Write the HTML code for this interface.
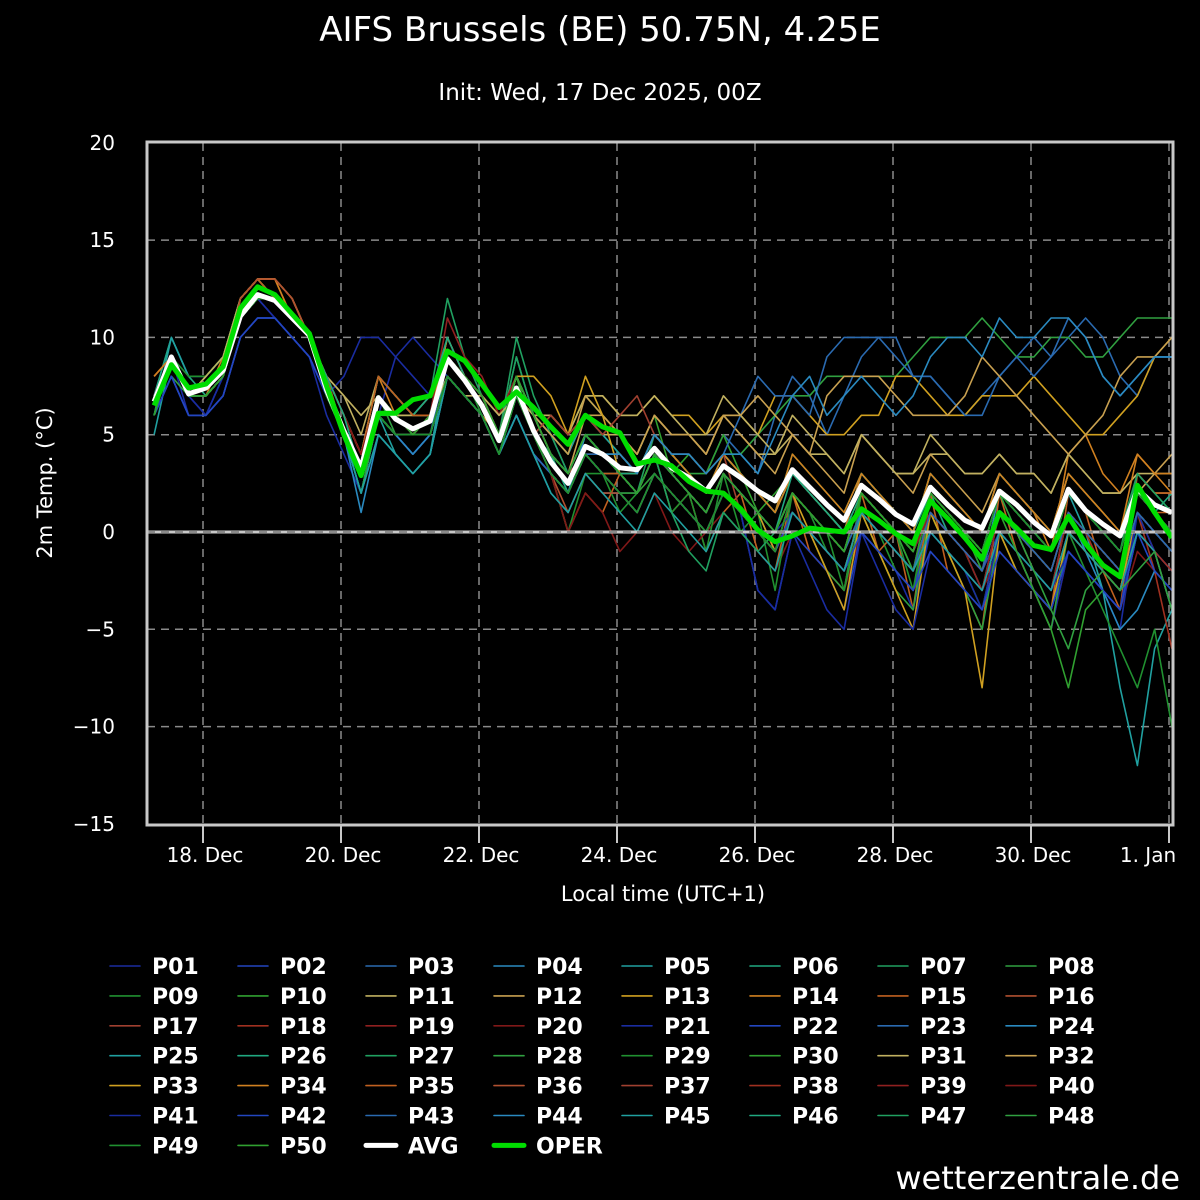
<!DOCTYPE html>
<html><head><meta charset="utf-8">
<style>
html,body{margin:0;padding:0;background:#000;}
svg{display:block;font-family:"DejaVu Sans","Liberation Sans",sans-serif;}
</style></head>
<body>
<svg id="chart" width="1200" height="1200" viewBox="0 0 1200 1200">
<rect x="0" y="0" width="1200" height="1200" fill="#000"/>
<text x="600" y="41" text-anchor="middle" fill="#fff" font-size="34">AIFS Brussels (BE) 50.75N, 4.25E</text>
<text x="600" y="100" text-anchor="middle" fill="#fff" font-size="23">Init: Wed, 17 Dec 2025, 00Z</text>
<g id="grid"></g>
<g id="series"></g>
<rect x="147" y="142" width="1026" height="683" fill="none" stroke="#c8c8c8" stroke-width="3"/>
<g id="yaxis"></g>
<g id="xaxis"></g>
<text transform="translate(52,483) rotate(-90)" text-anchor="middle" fill="#fff" font-size="21">2m Temp. (°C)</text>
<text x="663" y="901" text-anchor="middle" fill="#fff" font-size="21">Local time (UTC+1)</text>
<g id="legend"></g>
<text x="1180" y="1189" text-anchor="end" fill="#fff" font-size="32">wetterzentrale.de</text>
</svg>
<script>
const yTicks = [20, 15, 10, 5, 0, -5, -10, -15];
const yTickLabels = ["20", "15", "10", "5", "0", "\u22125", "\u221210", "\u221215"];
const xTickDays = [1, 3, 5, 7, 9, 11, 13, 15];
const xTickLabels = ["18. Dec", "20. Dec", "22. Dec", "24. Dec", "26. Dec", "28. Dec", "30. Dec", "1. Jan"];
const leadHours = [6,12,18,24,30,36,42,48,54,60,66,72,78,84,90,96,102,108,114,120,126,132,138,144,150,156,162,168,174,180,186,192,198,204,210,216,222,228,234,240,246,252,258,264,270,276,282,288,294,300,306,312,318,324,330,336,342,348,354,360];
const avgValues = [6.7,9.0,7.1,7.4,8.3,11.1,12.2,11.9,11.0,10.1,7.3,5.2,3.3,6.9,5.8,5.3,5.7,8.9,7.8,6.5,4.7,7.4,5.2,3.6,2.5,4.4,4.0,3.3,3.2,4.3,3.3,2.8,2.1,3.4,2.8,2.1,1.6,3.2,2.3,1.4,0.6,2.4,1.7,0.9,0.4,2.3,1.4,0.6,0.2,2.1,1.4,0.5,-0.2,2.2,1.1,0.4,-0.2,2.2,1.4,1.0];
const operValues = [6.5,8.6,7.4,7.6,8.5,11.5,12.6,12.2,11.2,10.2,7.5,5.0,2.9,6.1,6.1,6.8,7.0,9.3,8.8,7.6,6.4,7.2,6.4,5.4,4.5,6.0,5.4,5.1,3.5,3.7,3.4,2.6,2.1,2.0,1.2,0.1,-0.5,-0.2,0.2,0.1,0.0,1.2,0.6,-0.1,-0.6,1.6,0.7,-0.3,-1.4,1.0,0.2,-0.7,-0.9,0.8,-0.6,-1.7,-2.3,2.4,1.0,-0.3];
const memberValues = [
[7,9,6,6,8,11,12,11,10,9,6,4,2,6,9,10,9,8,7,6,4,6,4,3,2,4,3,2,2,3,2,1,0,2,1,0,-1,1,0,-1,-2,0,-1,-2,-3,0,-1,-2,-3,0,-1,-3,-4,-1,-2,-3,-4,0,-1,-2],
[6,8,6,6,7,10,11,11,10,9,7,5,2,6,5,4,5,8,7,6,4,7,5,3,2,4,3,3,2,4,3,2,1,3,2,1,0,2,1,0,-1,1,0,-1,-2,1,0,-1,-2,0,-1,-2,-3,0,-1,-2,-3,1,0,-1],
[7,10,8,8,9,12,13,12,11,10,8,6,4,8,7,6,6,9,8,7,5,8,6,5,3,5,4,4,3,5,4,4,3,5,4,3,6,8,7,5,7,9,10,10,8,8,7,6,7,8,9,10,9,10,11,10,8,7,9,9],
[6,9,7,7,8,11,12,12,11,10,7,5,1,5,4,3,4,8,7,6,4,6,4,2,1,3,2,2,1,3,2,1,0,2,1,0,-1,2,1,0,-1,2,1,0,-1,1,0,-1,-2,2,1,0,-1,1,0,-1,-2,2,1,0],
[5,9,7,7,8,11,12,12,11,10,7,5,2,6,4,3,4,9,8,7,5,8,6,4,2,5,4,3,3,5,4,3,2,4,3,2,1,3,2,1,0,3,2,1,0,3,2,1,0,2,1,0,-1,2,0,-3,-8,-12,-6,-4],
[7,10,8,7,8,11,12,12,11,10,8,6,3,7,6,5,6,10,8,7,5,9,6,4,2,5,4,3,2,4,3,2,1,3,2,1,0,2,1,0,-1,2,1,0,-2,2,0,-1,-3,1,0,-2,-3,1,0,-1,-2,2,1,2],
[6,9,7,8,9,12,13,12,11,10,7,5,3,7,6,6,7,12,9,7,5,9,6,4,3,5,4,3,2,5,4,3,2,4,3,2,1,4,3,2,1,3,2,1,0,3,2,1,0,3,2,1,0,3,2,1,0,3,2,1],
[6,8,7,8,9,11,12,12,11,10,7,5,3,7,5,5,6,9,8,7,5,8,6,4,3,5,5,4,3,5,4,3,3,4,4,5,6,7,7,8,8,8,8,8,9,10,10,10,11,10,9,9,10,10,9,9,10,11,11,11],
[7,9,7,7,8,11,12,12,11,10,7,5,3,6,5,5,6,9,8,6,4,7,5,3,2,4,3,3,2,4,3,2,1,3,2,1,0,2,1,-1,-2,1,0,-2,-3,1,-1,-2,-4,0,-1,-3,-4,0,-2,-4,-6,-8,-5,-10],
[6,9,7,7,8,11,12,12,11,10,8,6,4,7,6,5,6,9,8,7,5,8,5,6,5,7,6,5,4,6,3,4,3,5,3,1,2,3,2,1,0,2,1,0,-1,2,1,0,-1,2,1,0,-1,2,1,0,-1,2,1,0],
[7,9,7,8,9,12,13,12,11,10,8,7,5,8,7,6,7,9,8,7,6,8,6,5,4,6,5,5,4,6,5,5,4,6,5,4,4,5,4,4,3,5,4,3,3,4,4,3,3,4,3,3,2,4,3,2,2,3,2,2],
[7,9,7,7,8,12,13,13,12,10,8,6,4,8,7,6,6,10,8,7,5,8,6,4,3,6,6,5,4,6,5,5,4,6,5,4,3,5,4,3,2,5,4,3,2,4,3,2,1,3,2,1,0,3,2,1,0,2,3,4],
[6,9,7,7,8,11,12,12,11,10,7,5,3,6,5,5,5,8,7,6,5,7,6,6,5,7,7,6,6,7,6,6,5,6,6,5,7,7,6,5,5,6,6,8,8,7,6,6,7,7,7,8,7,6,5,5,6,7,9,10],
[8,9,7,7,9,12,13,13,12,10,8,6,4,8,6,5,6,10,8,7,5,8,6,4,3,5,4,3,3,5,4,3,2,4,3,2,1,4,3,2,1,3,2,1,0,3,2,1,0,3,2,1,-1,4,5,3,2,4,3,2],
[7,9,7,7,8,12,13,13,11,10,8,5,3,7,6,6,6,9,8,7,5,7,5,3,0,2,1,3,2,4,1,2,-1,1,2,-1,-2,2,-1,-2,-3,2,-1,0,-4,2,-2,-3,-5,2,-1,-3,-4,2,1,-2,-4,3,2,2],
[8,9,7,7,8,12,13,13,12,10,8,6,4,7,6,6,6,9,8,7,5,8,6,4,3,4,4,3,2,4,3,2,1,3,2,1,0,2,1,0,-1,1,0,-1,-2,1,0,-1,-2,1,0,-1,-2,1,0,-1,-2,1,-1,-4],
[7,9,7,7,8,11,12,12,11,10,7,5,3,6,5,5,5,8,7,6,4,6,4,3,2,4,3,2,1,3,2,1,0,2,1,0,-1,1,0,-1,-2,1,0,-1,-2,0,-1,-2,-3,0,-1,-2,-3,0,-1,-2,-3,1,0,-1],
[7,9,7,7,8,11,12,12,11,10,8,6,4,7,6,5,6,9,8,7,5,7,5,3,2,4,3,2,1,3,2,1,0,2,1,0,-1,2,1,0,-1,2,1,0,-1,1,0,-1,-2,1,0,-1,-2,1,0,-2,-3,1,-2,-6],
[7,9,7,7,8,11,12,12,11,10,8,6,4,7,6,5,6,11,9,8,6,8,6,4,3,5,4,3,2,4,3,2,1,3,2,1,0,2,1,0,-1,2,1,0,-1,2,1,0,-1,2,1,0,-1,2,1,0,-1,2,1,0],
[7,9,7,7,8,11,12,12,11,10,7,5,3,6,5,4,5,8,7,6,4,6,4,3,2,4,3,2,1,3,2,1,0,1,0,-1,-2,0,-1,-2,-3,0,-1,-2,-3,0,-1,-2,-3,-1,-2,-3,-5,-1,-2,-3,-4,-1,-2,-3],
[6,9,7,6,8,11,12,11,10,9,7,8,10,10,9,8,7,9,8,7,5,7,5,4,3,5,4,3,2,4,3,2,1,3,2,1,0,1,0,-1,-2,0,-1,-2,-4,0,-1,-2,-4,-1,-2,-3,-5,-1,-2,-3,-5,1,-1,-2],
[6,8,6,6,7,10,11,11,10,9,7,5,3,6,5,4,5,8,7,6,4,6,4,3,2,4,3,2,1,3,2,1,0,2,1,-3,-4,0,-1,-2,-4,0,-1,-2,-3,0,-1,-2,-3,0,-1,-3,-4,-1,-2,-3,-4,0,-1,-2],
[7,9,7,7,8,11,12,12,11,10,7,5,2,6,5,5,5,9,8,7,5,7,5,4,3,5,4,4,3,5,4,4,3,4,6,8,7,7,6,9,10,10,10,9,8,8,7,6,6,8,9,8,9,11,10,8,7,8,9,9],
[6,9,7,7,8,11,12,12,11,10,7,5,2,5,4,3,4,8,7,6,4,7,5,4,3,5,4,3,2,4,3,2,1,3,2,1,-1,1,0,-1,-2,1,0,-1,-2,1,0,-1,-2,1,0,-1,-2,1,-1,-3,-5,-4,-2,-3],
[6,10,8,8,9,12,13,12,11,10,8,6,4,7,6,5,6,9,8,7,5,8,6,5,4,6,5,4,3,5,4,3,2,4,3,2,1,3,2,1,0,3,2,1,0,3,2,1,0,3,2,1,0,2,1,0,-1,2,1,0],
[6,9,7,7,8,11,12,12,11,10,8,6,4,8,7,6,7,10,8,7,5,8,6,4,3,5,4,3,3,5,4,3,2,4,3,2,1,3,2,1,0,3,2,1,0,2,1,0,-1,2,1,0,-1,2,1,0,-1,2,1,0],
[6,9,7,7,8,11,12,12,11,10,7,5,3,7,6,5,6,9,8,7,5,10,7,5,3,5,4,3,2,4,3,2,1,3,2,1,0,2,1,0,-1,2,1,0,-1,2,1,0,-2,1,0,-1,-2,1,0,-1,-2,1,0,-1],
[6,9,7,7,8,11,12,12,11,10,7,5,2,6,6,5,5,8,7,6,4,7,5,3,2,4,3,2,1,3,2,1,0,2,1,0,-1,1,0,-2,-3,1,-1,-3,-4,1,-1,-3,-5,0,-2,-3,-5,0,-1,-2,-3,1,0,-1],
[6,9,8,8,9,12,13,12,11,10,8,6,4,7,6,6,6,9,8,7,5,7,5,3,0,3,3,1,2,4,1,2,-1,3,0,1,-3,2,1,0,-3,2,1,0,-3,2,1,0,-1,2,1,0,-1,2,1,0,-1,2,1,0],
[7,9,7,7,8,11,12,12,11,10,7,5,3,7,6,5,6,9,8,7,5,7,5,3,2,4,3,2,2,3,2,1,0,2,1,0,-1,2,1,0,-1,2,1,0,-2,2,1,0,-2,1,0,-1,-2,1,0,-1,-2,1,0,-1],
[7,9,7,8,9,12,13,12,11,10,8,7,6,7,6,6,6,8,7,7,6,7,6,6,5,7,7,6,6,7,6,5,5,7,6,5,4,6,5,4,3,5,4,3,3,5,4,3,3,4,3,3,2,4,3,2,2,3,3,3],
[7,9,7,7,8,12,13,13,12,10,8,6,4,7,6,5,6,9,8,7,5,8,6,5,4,7,6,5,4,6,5,5,4,6,6,7,6,5,4,7,8,8,8,7,6,6,6,7,9,8,7,6,5,4,5,6,8,9,9,10],
[7,9,7,7,8,11,12,12,11,10,8,6,4,7,6,5,6,9,8,7,5,8,8,7,5,8,6,3,2,4,3,2,1,3,2,1,-1,2,0,-2,-4,1,-1,-3,-5,1,-1,-3,-8,0,-2,-3,-4,0,-1,-2,-3,1,0,-1],
[8,9,7,7,8,12,13,13,11,10,8,6,4,7,6,5,6,9,8,7,5,8,6,4,3,5,4,4,3,5,4,3,2,4,3,2,1,3,2,1,0,3,2,1,0,3,2,1,0,3,2,1,0,3,2,1,0,4,3,3],
[7,9,7,7,8,12,13,12,11,10,8,6,4,8,7,6,6,9,8,7,5,7,5,3,2,4,3,3,2,4,3,2,1,3,2,1,0,2,1,0,-1,2,1,0,-1,2,1,0,-1,2,1,0,-1,1,0,-1,-2,2,1,1],
[7,9,7,7,8,12,13,13,12,10,8,6,4,7,6,5,6,9,8,7,5,7,5,3,1,3,2,2,1,3,2,1,0,2,1,0,-1,1,0,-1,-2,1,0,-1,-2,1,0,-1,-2,1,0,-1,-2,1,0,-1,-2,2,1,0],
[7,9,7,7,8,11,12,12,11,10,7,5,3,6,5,5,5,8,7,6,4,7,5,6,5,6,5,6,7,5,4,4,3,4,1,0,-1,2,1,0,-1,2,1,0,-1,2,1,0,-1,2,1,0,-1,2,1,0,-1,2,1,0],
[7,9,7,7,8,11,12,12,11,10,8,6,4,7,6,5,6,9,8,7,5,7,5,3,2,4,3,2,1,3,2,1,0,2,1,0,-1,1,0,-1,-2,1,0,-1,-2,1,0,-1,-2,1,0,-1,-2,1,0,-2,-3,0,-1,-2],
[7,9,7,7,8,11,12,12,11,10,7,5,3,6,5,5,5,8,7,6,4,7,5,3,2,4,3,2,1,3,2,1,0,2,1,0,-1,2,1,0,-1,2,1,0,-1,1,0,-1,-3,1,0,-2,-3,1,0,-1,-2,1,0,-1],
[7,9,7,7,8,11,12,12,11,10,8,6,4,7,6,5,6,9,8,7,5,7,5,3,0,2,1,-1,0,2,0,-1,0,2,1,0,-1,2,1,0,-1,2,1,0,-1,2,1,0,-1,2,1,0,-1,2,1,0,-1,2,1,0],
[6,9,7,6,8,11,12,11,10,9,7,5,3,6,5,4,5,8,7,6,4,6,4,3,2,4,3,2,1,3,2,1,0,2,1,-3,-4,0,-2,-4,-5,0,-2,-4,-5,-1,-2,-3,-4,0,-1,-2,-3,-1,-2,-3,-4,1,0,-1],
[6,8,6,6,7,10,11,11,10,9,7,5,3,6,5,4,5,8,7,6,4,6,4,3,2,4,3,2,1,3,2,1,0,2,1,0,-1,1,0,-1,-2,0,-1,-2,-3,-1,-2,-3,-4,-1,-2,-3,-4,-1,-2,-3,-4,0,-2,-3],
[7,9,7,7,8,11,12,12,11,10,7,5,3,6,5,5,5,8,7,6,4,6,4,3,2,4,4,3,2,4,3,2,1,3,2,1,0,2,1,0,-1,1,0,-1,-2,1,0,-1,-2,1,0,-1,-2,1,0,-1,-2,1,0,-1],
[6,9,7,7,8,11,12,12,11,10,7,5,3,6,5,4,5,8,7,6,4,7,5,3,2,5,4,4,3,5,4,4,3,4,4,3,5,7,8,6,7,8,7,6,7,9,10,10,9,11,10,10,11,11,10,8,7,8,9,9],
[6,9,7,7,8,11,12,12,11,10,7,5,2,5,4,3,4,8,7,6,4,6,4,2,1,3,2,1,0,2,1,0,-1,1,0,-1,-2,1,0,-1,-2,1,0,-1,-2,0,-1,-2,-3,0,-1,-2,-3,0,-1,-2,-3,0,-1,-4],
[6,9,7,7,8,11,12,12,11,10,8,6,3,7,6,5,6,9,8,7,5,8,6,4,3,5,4,3,2,4,3,2,1,3,2,1,0,3,2,1,0,2,1,0,-1,2,1,0,-1,2,1,0,-1,2,1,0,-1,2,1,0],
[6,9,7,7,8,11,12,12,11,10,7,5,3,6,5,5,5,8,7,6,4,7,5,4,3,5,4,3,2,4,1,-1,-2,1,0,-1,0,2,1,0,-1,2,1,0,-1,2,1,0,-1,2,1,0,-1,2,1,0,-1,3,2,1],
[6,9,7,7,8,11,12,12,11,10,7,5,3,6,5,5,5,8,7,6,4,7,5,3,2,4,3,2,1,3,2,1,0,2,1,0,-1,2,1,0,-1,2,1,0,-1,2,1,0,-1,2,0,-2,-4,-6,-3,-2,-3,-2,-1,-4],
[6,9,7,7,8,11,12,12,11,10,7,5,3,6,5,5,5,8,7,6,4,7,5,3,2,4,3,2,1,3,2,1,0,2,1,0,-1,2,1,0,-1,2,1,0,-1,2,1,0,-1,2,1,0,-1,2,1,0,-1,2,1,0],
[6,9,7,7,8,11,12,12,11,10,7,5,3,7,6,5,6,9,8,7,5,8,6,4,3,5,4,3,2,4,3,2,1,3,2,1,0,2,1,0,-1,2,1,0,-1,2,1,0,-1,1,-1,-3,-5,-8,-4,-3]
];
const memberColors = ["#1a2ca0","#2346c0","#2a6ab0","#2a8ac0","#20a0a0","#20a880","#20a060","#30a040","#209030","#30a030","#c0b060","#c8a050","#d0a020","#d08020","#c06020","#b05030","#a04030","#a03020","#902020","#801818"];

const NS = "http://www.w3.org/2000/svg";
const X0 = 203, PX_PER_DAY = 69;
const Y0 = 532, PX_PER_DEG = 681 / 35;
function xScaleDay(d) { return X0 + (d - 1) * PX_PER_DAY; }
function xScaleHour(h) { return xScaleDay((h + 1) / 24); }
function yScale(v) { return Y0 - v * PX_PER_DEG; }
function mk(tag, attrs, parent) {
  const el = document.createElementNS(NS, tag);
  for (const k in attrs) el.setAttribute(k, attrs[k]);
  parent.appendChild(el);
  return el;
}
const grid = document.getElementById("grid");
const yaxis = document.getElementById("yaxis");
const xaxis = document.getElementById("xaxis");
yTicks.forEach((v, i) => {
  const y = yScale(v);
  if (v !== 0 && v !== 20 && v !== -15) {
    const gl = mk("line", {x1: 147, x2: 1173, y1: y, y2: y, stroke: "#8a8a8a", "stroke-width": 1.5, "stroke-dasharray": "8,6"}, grid);
    
    
  }
  const t = mk("text", {x: 115, y: y + 7, "text-anchor": "end", fill: "#fff", "font-size": 20}, yaxis);
  t.textContent = yTickLabels[i];
  
  
});
xTickDays.forEach((d, i) => {
  const x = xScaleDay(d);
  const gl = mk("line", {x1: x, x2: x, y1: 143, y2: 824, stroke: "#8a8a8a", "stroke-width": 1.5, "stroke-dasharray": "8,6"}, grid);
  
  
  const tk = mk("line", {x1: x, x2: x, y1: 825, y2: 843, stroke: "#c8c8c8", "stroke-width": 2}, xaxis);
  
  
  const lx = (i === xTickDays.length - 1) ? Math.min(x, 1148) : x + 2;
  const t = mk("text", {x: lx, y: 862, "text-anchor": "middle", fill: "#fff", "font-size": 20}, xaxis);
  t.textContent = xTickLabels[i];
  
  
});
const series = document.getElementById("series");
function pathFrom(vals) {
  return vals.map((v, i) => (i ? "L" : "M") + xScaleHour(leadHours[i]).toFixed(1) + "," + yScale(v).toFixed(1)).join(" ");
}
memberValues.forEach((vals, m) => {
  const p = mk("path", {d: pathFrom(vals), fill: "none", stroke: memberColors[m % 20], "stroke-width": 1.6, "stroke-linejoin": "round"}, series);
  
  
});
const zl = mk("line", {x1: 147, x2: 1173, y1: yScale(0), y2: yScale(0), stroke: "#c8c8c8", "stroke-width": 3}, series);


const zd = mk("line", {x1: 147, x2: 1173, y1: yScale(0), y2: yScale(0), stroke: "#777", "stroke-width": 1.5, "stroke-dasharray": "8,6"}, series);


const avgP = mk("path", {d: pathFrom(avgValues), fill: "none", stroke: "#fff", "stroke-width": 5, "stroke-linejoin": "round"}, series);


const operP = mk("path", {d: pathFrom(operValues), fill: "none", stroke: "#00dd00", "stroke-width": 5, "stroke-linejoin": "round"}, series);



const legend = document.getElementById("legend");
const legendLabels = [];
for (let i = 1; i <= 50; i++) legendLabels.push("P" + String(i).padStart(2, "0"));
legendLabels.push("AVG", "OPER");
legendLabels.forEach((lab, i) => {
  const col = i % 8, row = Math.floor(i / 8);
  const lx = 110 + col * 128, ly = 966 + row * 29.9;
  let color, w;
  if (lab === "AVG") { color = "#fff"; w = 5; }
  else if (lab === "OPER") { color = "#00dd00"; w = 5; }
  else { color = memberColors[i % 20]; w = 1.6; }
  const g = mk("g", {}, legend);
  
  
  const ln = mk("line", {x1: lx, x2: lx + 30, y1: ly, y2: ly, stroke: color, "stroke-width": w, "stroke-linecap": "round"}, g);
  
  
  const t = mk("text", {x: lx + 42, y: ly + 8, fill: "#fff", "font-size": 22, "font-weight": "bold"}, g);
  t.textContent = lab;
  
  
});
</script>
</body></html>
